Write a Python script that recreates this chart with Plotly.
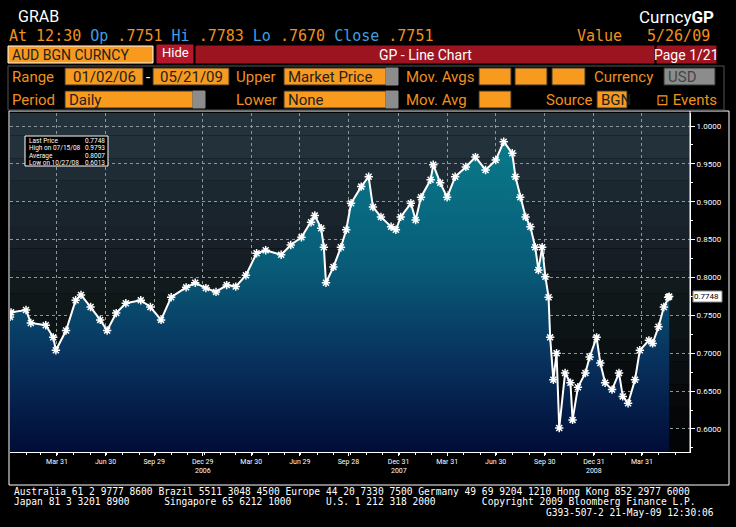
import plotly.graph_objects as go

# AUD/USD daily close
dates = ["2006-01-02", "2006-01-04", "2006-02-01", "2006-02-10", "2006-03-10", "2006-03-24", "2006-03-29",
         "2006-04-17", "2006-05-05", "2006-05-15", "2006-06-02", "2006-06-20", "2006-07-03", "2006-07-20",
         "2006-08-07", "2006-09-04", "2006-09-22", "2006-10-12", "2006-10-31", "2006-11-28", "2006-12-15",
         "2007-01-04", "2007-01-23", "2007-02-12", "2007-03-01", "2007-03-20", "2007-04-09", "2007-04-26",
         "2007-05-25", "2007-06-12", "2007-07-02", "2007-07-20", "2007-07-27", "2007-08-08", "2007-08-13",
         "2007-08-17", "2007-08-31", "2007-09-14", "2007-09-24", "2007-10-03", "2007-10-22", "2007-11-05",
         "2007-11-13", "2007-11-28", "2007-12-17", "2007-12-26", "2008-01-04", "2008-01-23", "2008-02-01",
         "2008-02-11", "2008-02-29", "2008-03-05", "2008-03-18", "2008-03-31", "2008-04-15", "2008-05-05",
         "2008-05-23", "2008-06-11", "2008-06-30", "2008-07-15", "2008-07-31", "2008-08-06", "2008-08-15",
         "2008-08-25", "2008-09-03", "2008-09-12", "2008-09-18", "2008-09-25", "2008-10-01", "2008-10-07",
         "2008-10-10", "2008-10-16", "2008-10-22", "2008-10-27", "2008-11-07", "2008-11-17", "2008-11-21",
         "2008-12-01", "2008-12-15", "2008-12-23", "2009-01-05", "2009-01-12", "2009-01-21", "2009-02-03",
         "2009-02-16", "2009-02-23", "2009-03-05", "2009-03-18", "2009-03-27", "2009-04-13", "2009-04-20",
         "2009-05-01", "2009-05-11", "2009-05-19", "2009-05-21"]
prices = [0.748, 0.754, 0.757, 0.740, 0.737, 0.721, 0.704,
          0.730, 0.770, 0.777, 0.761, 0.744, 0.730, 0.753,
          0.766, 0.770, 0.761, 0.744, 0.774, 0.787, 0.793,
          0.786, 0.781, 0.790, 0.788, 0.803, 0.832, 0.836,
          0.830, 0.843, 0.853, 0.873, 0.882, 0.865, 0.840,
          0.793, 0.814, 0.840, 0.863, 0.898, 0.920, 0.933,
          0.893, 0.880, 0.867, 0.863, 0.880, 0.898, 0.876,
          0.906, 0.929, 0.949, 0.925, 0.906, 0.933, 0.946,
          0.959, 0.942, 0.955, 0.9793, 0.964, 0.933, 0.906,
          0.880, 0.867, 0.840, 0.810, 0.840, 0.801, 0.774,
          0.721, 0.665, 0.700, 0.6013, 0.674, 0.661, 0.612,
          0.655, 0.674, 0.695, 0.721, 0.687, 0.661, 0.652,
          0.674, 0.643, 0.634, 0.665, 0.704, 0.717, 0.713,
          0.735, 0.761, 0.774, 0.7748]

tick_dates = ["2006-03-31", "2006-06-30", "2006-09-29", "2006-12-29", "2007-03-30", "2007-06-29",
              "2007-09-28", "2007-12-31", "2008-03-31", "2008-06-30", "2008-09-30", "2008-12-31", "2009-03-31"]
tick_text = ["Mar 31", "Jun 30", "Sep 29", "Dec 29", "Mar 30", "Jun 29",
             "Sep 28", "Dec 31", "Mar 31", "Jun 30", "Sep 30", "Dec 31", "Mar 31"]
years = ["2006", "2007", "2008"]
year_pos = ["2006-12-29", "2007-12-31", "2008-12-31"]
y_ticks = [0.60, 0.65, 0.70, 0.75, 0.80, 0.85, 0.90, 0.95, 1.00]

ORANGE = "#f0901e"
BOXOR = "#f89a1e"
BLUE = "#3d9ee0"
MONO = "DejaVu Sans Mono"
NARROW = "Liberation Sans Narrow, Roboto, sans-serif"


def px(x):
    return (x - 10) / 680


def py(y):
    return (452 - y) / 339


fig = go.Figure()
fig.add_trace(go.Scatter(
    x=dates, y=prices, mode="lines+markers",
    line=dict(color="white", width=2),
    marker=dict(symbol="asterisk-open", size=7, color="white", line=dict(color="white", width=1.5)),
    fill="tozeroy",
    fillgradient=dict(type="vertical", start=0.5696, stop=0.98,
                      colorscale=[[0, "#000c36"], [0.3, "#08325e"], [0.6, "#085c78"], [1, "#0a7a8a"]]),
    hoverinfo="x+y", showlegend=False))

shapes = []
# banded background
bands = ["#24333b", "#22313a", "#1f2c35", "#1c2830", "#1a242c", "#182129", "#161d24", "#131a1e",
         "#101719", "#0d1416", "#0b1113", "#090d10", "#07090b", "#050608", "#030405"]
n = len(bands)
for i, c in enumerate(bands):
    shapes.append(dict(type="rect", xref="paper", yref="paper", x0=0, x1=1,
                       y0=1 - (i + 1) / n, y1=1 - i / n, fillcolor=c, line_width=0, layer="below"))
# outer frame
shapes.append(dict(type="rect", xref="paper", yref="paper", x0=px(9), x1=px(729), y0=py(485), y1=py(111),
                   line=dict(color="white", width=1)))
shapes.append(dict(type="line", xref="paper", yref="paper", x0=px(690), x1=px(690), y0=py(452), y1=py(111),
                   line=dict(color="white", width=1)))


def box(x0, x1, y0, y1, color, border=None):
    shapes.append(dict(type="rect", xref="paper", yref="paper", x0=px(x0), x1=px(x1), y0=py(y1), y1=py(y0),
                       fillcolor=color, line=dict(color=border or color, width=1)))


annotations = []


def text(x, y, s, color="white", size=15, anchor="left", family=NARROW):
    annotations.append(dict(xref="paper", yref="paper", x=px(x), y=py(y), text=s, showarrow=False,
                            xanchor=anchor, yanchor="middle", font=dict(family=family, size=size, color=color)))


# header
text(16, 16, "GRAB", size=16)
text(716, 17, "Curncy<b>GP</b>", size=17, anchor="right")
text(7, 36, "At 12:30 <span style='color:%s'>Op</span> .7751 <span style='color:%s'>Hi</span> .7783 "
            "<span style='color:%s'>Lo</span> .7670 <span style='color:%s'>Close</span> .7751"
     % (BLUE, BLUE, BLUE, BLUE), color=ORANGE, family=MONO)
text(575, 36, "Value", color=ORANGE, family=MONO)
text(712, 36, "5/26/09", color=ORANGE, anchor="right", family=MONO)
box(8, 153, 46, 63, BOXOR, "white")
text(10, 55, "AUD BGN CURNCY", color="#222", size=14)
box(157, 193, 45, 63, "#b4182a")
text(175, 53, "Hide", size=13, anchor="center")
box(196, 654, 46, 63, "#9c1420")
text(425, 55, "GP - Line Chart", size=14, anchor="center")
box(657, 716, 46, 63, "#9c1420")
text(686, 55, "Page 1/21", size=14, anchor="center")
shapes.append(dict(type="rect", xref="paper", yref="paper", x0=px(8), x1=px(724), y0=py(110), y1=py(66),
                   line=dict(color="#555", width=1)))
# row 4
text(10, 77, "Range", color=ORANGE)
box(65, 143, 68, 85, BOXOR, "#333")
text(104, 77, "01/02/06", color="#222", anchor="center")
text(148, 77, "-", anchor="center")
box(153, 229, 68, 85, BOXOR, "#333")
text(191, 77, "05/21/09", color="#222", anchor="center")
text(234, 77, "Upper", color=ORANGE)
box(284, 386, 68, 85, BOXOR, "#333")
box(386, 398, 68, 85, "#8c8c8c")
text(286, 77, "Market Price", color="#222")
text(404, 77, "Mov. Avgs", color=ORANGE)
box(479, 511, 68, 85, BOXOR, "#333")
box(515, 547, 68, 85, BOXOR, "#333")
box(552, 585, 68, 85, BOXOR, "#333")
text(592, 77, "Currency", color=ORANGE)
box(664, 715, 68, 85, "#8c8c8c", "#333")
text(666, 77, "USD", color="#444")
# row 5
text(10, 100, "Period", color=ORANGE)
box(65, 193, 91, 108, BOXOR, "#333")
box(193, 205, 91, 108, "#8c8c8c")
text(67, 100, "Daily", color="#222")
text(234, 100, "Lower", color=ORANGE)
box(284, 386, 91, 108, BOXOR, "#333")
box(386, 398, 91, 108, "#8c8c8c")
text(286, 100, "None", color="#222")
text(404, 100, "Mov. Avg", color=ORANGE)
box(479, 511, 91, 108, BOXOR, "#333")
text(544, 100, "Source", color=ORANGE)
box(597, 627, 91, 108, BOXOR, "#333")
text(599, 100, "BGN", color="#222")
text(654, 100, "⊡ Events", color=ORANGE)

# stats box
box(25, 108, 136, 166, "black", "white")
stats = [("Last Price", "0.7748"), ("High on 07/15/08", "0.9793"),
         ("Average", "0.8007"), ("Low on 10/27/08", "0.6013")]
for i, (a, b) in enumerate(stats):
    text(27, 141 + i * 7.3, a, size=6.5)
    text(107, 141 + i * 7.3, b, size=6.5, anchor="right")

# last price tag
box(693, 722, 291, 302, "white", "#888")
text(707, 296.5, "0.7748", color="black", size=8, anchor="center")

# year labels
for yl, yp in zip(years, year_pos):
    annotations.append(dict(x=yp, xref="x", yref="paper", y=py(477), text=yl, showarrow=False,
                            font=dict(family=NARROW, size=7, color="white")))

# footer
text(12, 491, "Australia 61 2 9777 8600 Brazil 5511 3048 4500 Europe 44 20 7330 7500 Germany 49 69 9204 1210 Hong Kong 852 2977 6000",
     size=9.6, family=MONO)
text(12, 501.5, "Japan 81 3 3201 8900      Singapore 65 6212 1000      U.S. 1 212 318 2000        Copyright 2009 Bloomberg Finance L.P.",
     size=9.6, family=MONO)
text(716, 512, "G393-507-2 21-May-09 12:30:06", size=9.6, anchor="right", family=MONO)

fig.update_layout(
    width=736, height=527, paper_bgcolor="black", plot_bgcolor="rgba(0,0,0,0)",
    margin=dict(l=10, r=46, t=113, b=75), showlegend=False,
    shapes=shapes, annotations=annotations,
    xaxis=dict(range=["2006-01-02", "2009-06-29"], tickvals=tick_dates, ticktext=tick_text,
               showgrid=True, gridcolor="#8a979c", griddash="dot", gridwidth=1,
               ticks="outside", ticklen=3, tickcolor="white", showline=True, linecolor="white",
               tickfont=dict(family=NARROW, size=7, color="white"), zeroline=False,
               minor=dict(dtick="M1", ticks="outside", ticklen=2, tickcolor="white", showgrid=False)),
    yaxis=dict(range=[0.5696, 1.0172], side="right", tickvals=y_ticks, tickformat=".4f",
               showgrid=True, gridcolor="#8a979c", griddash="dot", gridwidth=1,
               ticks="outside", ticklen=4, tickcolor="white", showline=True, linecolor="white",
               tickfont=dict(family=NARROW, size=8, color="white"), zeroline=False,
               minor=dict(dtick=0.025, ticks="outside", ticklen=2, tickcolor="white", showgrid=False)),
)

fig.write_html("out.html", post_script="document.body.style.margin='0';",
               config={"displayModeBar": False})
